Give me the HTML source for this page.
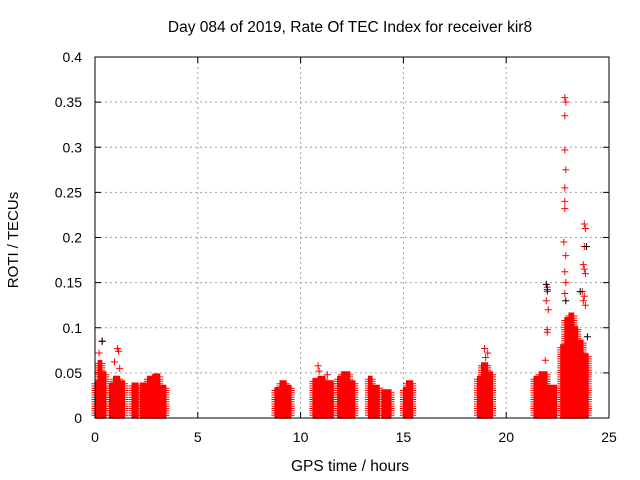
<!DOCTYPE html>
<html><head><meta charset="utf-8"><style>
html,body{margin:0;padding:0;background:#fff}
svg{display:block;font-family:"Liberation Sans",sans-serif}
</style></head><body>
<svg id="chart" width="640" height="480" viewBox="0 0 640 480">
<text x="350" y="32" font-size="15.5" text-anchor="middle">Day 084 of 2019, Rate Of TEC Index for receiver kir8</text>
<text x="0" y="0" font-size="15" text-anchor="middle" transform="translate(18,240) rotate(-90)">ROTI / TECUs</text>
<text x="350" y="471" font-size="15.5" text-anchor="middle">GPS time / hours</text>
<g id="grid"></g>
<g id="ticks"></g>
<g id="marks"></g>
<rect x="95" y="57" width="514" height="361" fill="none" stroke="#000" stroke-width="1"/>
</svg>
<script>
const xTicks=[0,5,10,15,20,25];
const yTicks=[0,0.05,0.1,0.15,0.2,0.25,0.3,0.35,0.4];
const yTickLabels=["0","0.05","0.1","0.15","0.2","0.25","0.3","0.35","0.4"];
// dense clusters: start hour, end hour, top ROTI
const clusterStart=[0.0,0.15,0.35,0.7,0.9,1.2,1.8,2.2,2.55,2.85,3.15,8.75,9.0,9.3,10.6,10.85,11.2,11.8,12.0,12.4,13.3,13.5,13.95,15.0,15.15,18.6,18.8,19.1,21.35,21.6,22.0,22.65,22.85,23.05,23.3,23.5,23.75];
const clusterEnd=[0.15,0.35,0.55,0.9,1.2,1.45,2.1,2.55,2.85,3.15,3.45,9.0,9.3,9.55,10.85,11.2,11.6,12.0,12.4,12.65,13.5,13.85,14.4,15.15,15.45,18.8,19.1,19.35,21.6,22.0,22.45,22.85,23.05,23.3,23.5,23.75,24.0];
const clusterTop=[0.04,0.062,0.05,0.036,0.044,0.04,0.036,0.036,0.044,0.046,0.034,0.032,0.04,0.035,0.042,0.044,0.038,0.044,0.048,0.04,0.043,0.035,0.028,0.032,0.04,0.045,0.058,0.05,0.045,0.05,0.035,0.08,0.11,0.115,0.1,0.085,0.07];
// isolated points
const outX=[0.35,0.2,1.1,1.15,0.95,1.2,2.8,10.85,10.9,11.3,18.95,19.1,19.0,
 22.0,22.0,21.95,22.05,22.0,22.0,21.9,22.85,22.9,22.85,22.85,22.9,22.85,22.85,22.85,22.8,22.9,22.85,22.9,22.85,
 23.8,23.85,23.8,23.75,23.8,23.85,23.7,23.8,23.75,23.85];
const outY=[0.085,0.072,0.077,0.074,0.062,0.055,0.045,0.058,0.052,0.048,0.077,0.072,0.067,
 0.145,0.14,0.13,0.12,0.098,0.095,0.064,0.355,0.35,0.335,0.297,0.275,0.255,0.24,0.232,0.195,0.18,0.162,0.15,0.138,
 0.215,0.21,0.19,0.17,0.165,0.16,0.14,0.135,0.13,0.125];
const blackX=[0.35,21.95,22.0,23.9,22.9,23.6,23.95];
const blackY=[0.085,0.148,0.142,0.19,0.13,0.14,0.09];

const X0=95,X1=609,Y0=418,Y1=57;
const xs=v=>X0+(v-0)/(25-0)*(X1-X0);
const ys=v=>Y0-(v-0)/(0.4-0)*(Y0-Y1);
const NS="http://www.w3.org/2000/svg";
const grid=document.getElementById('grid'),ticks=document.getElementById('ticks'),marks=document.getElementById('marks');
function mk(tag,attrs,parent){const e=document.createElementNS(NS,tag);for(const k in attrs)e.setAttribute(k,attrs[k]);parent.appendChild(e);return e;}
xTicks.forEach((t,i)=>{const x=xs(t);
 if(i>0&&i<xTicks.length-1){const g=mk('line',{x1:x,x2:x,y1:Y1,y2:Y0,stroke:'#a0a0a0','stroke-dasharray':'2,3'},grid);
 }
 const tk=mk('path',{d:`M${x},${Y0}v-6M${x},${Y1}v6`,stroke:'#000'},ticks);
 
 const l=mk('text',{x:x,y:442,'font-size':14,'text-anchor':'middle'},ticks);l.textContent=String(t);
 });
yTicks.forEach((t,i)=>{const y=ys(t);
 if(i>0&&i<yTicks.length-1){const g=mk('line',{x1:X0,x2:X1,y1:y,y2:y,stroke:'#a0a0a0','stroke-dasharray':'2,3'},grid);
 }
 const tk=mk('path',{d:`M${X0},${y}h6M${X1},${y}h-6`,stroke:'#000'},ticks);
 
 const l=mk('text',{x:82,y:y+5,'font-size':14,'text-anchor':'end'},ticks);l.textContent=yTickLabels[i];
 });
const plus=(x,y)=>`M${(x-3.5).toFixed(1)},${y.toFixed(1)}h7M${x.toFixed(1)},${(y-3.5).toFixed(1)}v7`;
clusterStart.forEach((s,i)=>{let d='';
 for(let h=s;h<=clusterEnd[i]+1e-9;h+=0.03){for(let v=0.003;v<=clusterTop[i]+1e-9;v+=0.0025){d+=plus(xs(h),ys(v));}}
 const p=mk('path',{d:d,stroke:'#ff0000','stroke-width':1,fill:'none'},marks);
 });
outX.forEach((h,i)=>{const p=mk('path',{d:plus(xs(h),ys(outY[i])),stroke:'#ff0000','stroke-width':1},marks);
 });
blackX.forEach((h,i)=>{const p=mk('path',{d:plus(xs(h),ys(blackY[i])),stroke:'#000','stroke-width':1},marks);
 });
</script>
</body></html>
